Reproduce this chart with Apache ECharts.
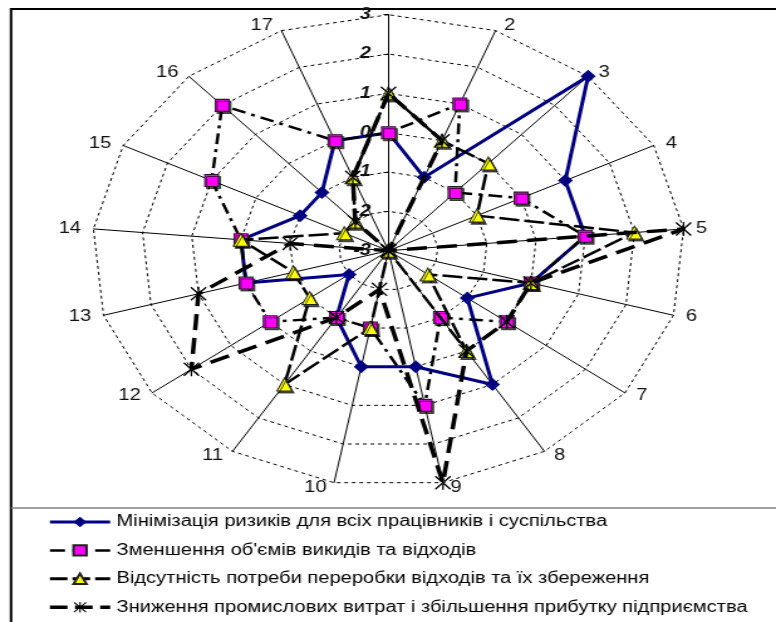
<!DOCTYPE html>
<html><head><meta charset="utf-8">
<script src="https://cdn.jsdelivr.net/npm/echarts@6/dist/echarts.min.js"></script>
<style>
html,body{margin:0;padding:0;background:#fff;overflow:hidden;}
#wrap{position:absolute;left:0;top:0;width:776px;height:622px;overflow:hidden;background:#fff;}
#chart{position:absolute;left:0;top:0;width:618px;height:622px;transform:scaleX(1.2556);transform-origin:0 0;}
</style></head><body>
<div id="wrap"><div id="chart"></div></div>
<script>
// ---- data ----
const categories = ['1','2','3','4','5','6','7','8','9','10','11','12','13','14','15','16','17'];
const axisMin = -3;
const axisMax = 3;
const tickLabels = ['-3','-2','-1','0','1','2','3'];
const seriesNames = [
  'Мінімізація ризиків для всіх працівників і суспільства',
  "Зменшення об'ємів викидів та відходів",
  'Відсутність потреби переробки відходів та їх збереження',
  'Зниження промислових витрат і збільшення прибутку підприємства'
];
const riskValues   = [0, -1, 3, 1, 1, 0, -1, 1, 0, 0, -1, -2, 0, 0, -1, -1, 0];
const wasteValues  = [0, 1, -1, 0, 1, 0, 0, -1, 1, -1, -1, 0, 0, 0, 1, 2, 0];
const recycleValues= [1, 0, 0, -1, 2, 0, -2, 0, -3, -1, 1, -1, -1, 0, -2, -2, -1];
const costValues   = [1, 0, -3, -3, 3, 0, 0, 0, 3, -2, -1, 2, 1, -1, -3, -2, -1];

// ---- chart ----
const n = categories.length;
// clockwise order starting from the top
const order = categories.map((_, i) => (n - i) % n);
const reorder = arr => order.map(i => arr[i]);

const asterisk = 'path://M4.5 0L5.5 0L5.5 10L4.5 10ZM0 0.7L0.7 0L10 9.3L9.3 10ZM10 0.7L9.3 0L0 9.3L0.7 10Z';
const shadow = {shadowColor:'rgba(0,0,0,0.65)', shadowOffsetX:1.5, shadowOffsetY:2, shadowBlur:0};
const FONT = 'Liberation Sans, Arial, sans-serif';

const styles = [
  {symbol:'diamond', symbolSize:[12,13], lineStyle:{color:'#000080', width:3, type:'solid'}, itemStyle:{color:'#000080'}},
  {symbol:'rect', symbolSize:[11,12], lineStyle:{color:'#000', width:2.5, type:[11,5,3,5]}, itemStyle:Object.assign({color:'#FF00FF', borderColor:'#222', borderWidth:1}, shadow)},
  {symbol:'triangle', symbolSize:[12,13], lineStyle:{color:'#000', width:2.5, type:[16,4]}, itemStyle:Object.assign({color:'#FFFF00', borderColor:'#222', borderWidth:1}, shadow)},
  {symbol:asterisk, symbolSize:[13,14], lineStyle:{color:'#000', width:3.5, type:[16,8]}, itemStyle:{color:'#000'}}
];
const legendLine = [
  {width:3, type:'solid'},
  {width:2.5, type:[12,6]},
  {width:3, type:[14,4]},
  {width:3.5, type:[14,6]}
];
const valueSets = [riskValues, wasteValues, recycleValues, costValues];

const indicator = order.map(i => {
  const ind = {name: categories[i], min: axisMin, max: axisMax};
  if (i === 0) {
    ind.axisLabel = {show:true, fontSize:16, fontWeight:'bold', fontStyle:'italic', color:'#111',
      fontFamily:FONT, margin:14, padding:[6,0,0,0],
      formatter: v => tickLabels[Math.round(v) - axisMin]};
    ind.axisTick = {show:true, length:4, lineStyle:{color:'#000', width:1}};
  }
  return ind;
});

const legendSeries = seriesNames.map((name, k) => ({
  type:'line', name, xAxisIndex:0, yAxisIndex:0, data:[],
  symbol: styles[k].symbol, symbolSize: 10,
  lineStyle: styles[k].lineStyle, itemStyle: styles[k].itemStyle
}));
const radarSeries = seriesNames.map((name, k) => ({
  type:'radar', name, radarIndex:0,
  symbol: styles[k].symbol, symbolSize: styles[k].symbolSize,
  lineStyle: styles[k].lineStyle, itemStyle: styles[k].itemStyle,
  emphasis:{disabled:true}, silent:true, z: 2 + k,
  data:[{value: reorder(valueSets[k]), name}]
}));

const chart = echarts.init(document.getElementById('chart'), null, {renderer:'canvas'});
chart.setOption({
  animation:false,
  backgroundColor:'#fff',
  textStyle:{fontFamily:FONT},
  grid:{left:0, top:0, width:10, height:10, show:false},
  xAxis:{show:false, type:'value'},
  yAxis:{show:false, type:'value'},
  radar:{
    center:[309.4, 250.7],
    radius:236,
    startAngle:90,
    splitNumber:6,
    shape:'polygon',
    nameGap:5,
    indicator,
    axisName:{color:'#111', fontSize:16, fontFamily:FONT, padding:[0,5,0,5],
      formatter: name => name === '1' ? '' : name},
    axisLine:{lineStyle:{color:'#000', width:1}},
    splitLine:{lineStyle:{color:'#000', width:1, type:[3,3]}},
    splitArea:{show:false},
    axisTick:{show:false},
    axisLabel:{show:false}
  },
  legend:{
    data: seriesNames.map((name, k) => ({name, lineStyle: legendLine[k]})),
    orient:'vertical',
    left:38, top:514, padding:0, height:106,
    itemWidth:48, itemHeight:13, itemGap:12.4,
    selectedMode:false,
    textStyle:{fontSize:16, lineHeight:16, color:'#000', fontFamily:FONT}
  },
  graphic:[
    {type:'rect', silent:true, z:-10, shape:{x:8.8, y:9, width:700, height:700},
     style:{fill:'none', stroke:'#000', lineWidth:2}},
    {type:'line', silent:true, z:-10, shape:{x1:8.8, y1:508, x2:700, y2:508},
     style:{stroke:'#808080', lineWidth:1.5}}
  ],
  series: legendSeries.concat(radarSeries)
});
</script>
</body></html>
